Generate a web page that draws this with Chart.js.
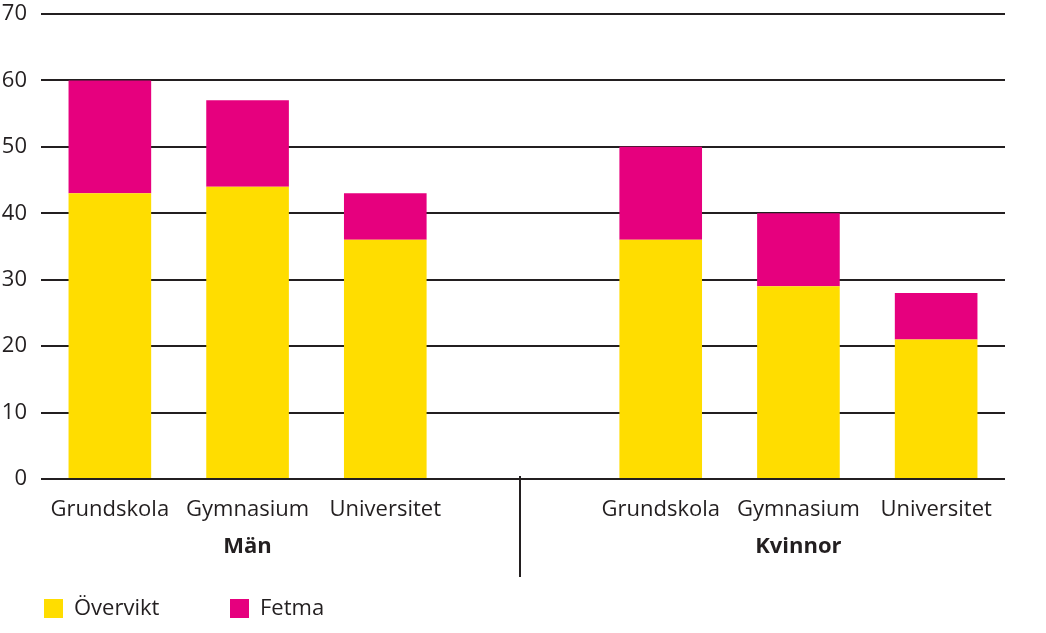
<!DOCTYPE html>
<html>
<head>
<meta charset="utf-8">
<script src="https://cdn.jsdelivr.net/npm/chart.js@4/dist/chart.umd.min.js"></script>
<style>
  html, body { margin: 0; padding: 0; background: #fff; }
  #wrap { width: 1046px; height: 633px; position: relative; }
</style>
</head>
<body>
<div id="wrap"><canvas id="chart"></canvas></div>
<script>
// kategorier (tom plats i mitten skiljer grupperna åt)
const categories = ["Grundskola", "Gymnasium", "Universitet", "", "Grundskola", "Gymnasium", "Universitet"];
const groups = ["Män", "Kvinnor"];
const groupCenterIndex = [1, 5];
const overvikt = [43, 44, 36, null, 36, 29, 21];
const fetma = [17, 13, 7, null, 14, 11, 7];
const yTicks = [0, 10, 20, 30, 40, 50, 60, 70];

const YELLOW = "#FFDD00";
const MAGENTA = "#E6007E";
const INK = "#231F20";
const FONT = "'Open Sans', sans-serif";

// grupprubriker, skiljelinje och förklaring ritas själv
const extras = {
  id: "extras",
  afterDraw(chart) {
    const ctx = chart.ctx;
    const x = chart.scales.x;
    ctx.save();
    // skiljelinje
    const sx = Math.round(x.getPixelForValue(3)) - 3;
    ctx.strokeStyle = INK;
    ctx.lineWidth = 2;
    ctx.beginPath();
    ctx.moveTo(sx, chart.chartArea.bottom - 3);
    ctx.lineTo(sx, 577);
    ctx.stroke();

    ctx.fillStyle = INK;
    ctx.font = "bold 22px " + FONT;
    ctx.textAlign = "center";
    ctx.textBaseline = "middle";
    groups.forEach((g, i) => {
      ctx.fillText(g, x.getPixelForValue(groupCenterIndex[i]), 547);
    });

    // förklaring
    const items = [["Övervikt", YELLOW, 44], ["Fetma", MAGENTA, 230]];
    ctx.font = "22px " + FONT;
    ctx.textAlign = "left";
    items.forEach(([txt, col, lx]) => {
      ctx.fillStyle = col;
      ctx.fillRect(lx, 599, 19, 19);
      ctx.fillStyle = INK;
      ctx.fillText(txt, lx + 30, 609);
    });
    ctx.restore();
  }
};

new Chart(document.getElementById("chart"), {
  type: "bar",
  data: {
    labels: categories,
    datasets: [
      { label: "Övervikt", data: overvikt, backgroundColor: YELLOW },
      { label: "Fetma", data: fetma, backgroundColor: MAGENTA }
    ]
  },
  options: {
    responsive: true,
    maintainAspectRatio: false,
    animation: false,
    layout: { padding: { top: 14, right: 41, left: 0, bottom: 0 } },
    datasets: { bar: { categoryPercentage: 1, barPercentage: 0.6 } },
    plugins: { legend: { display: false }, tooltip: { enabled: false } },
    scales: {
      x: {
        stacked: true,
        grid: { display: false, drawTicks: false },
        border: { display: false },
        ticks: { color: INK, font: { family: FONT, size: 22 }, padding: 18, maxRotation: 0, autoSkip: false },
        afterFit: s => { s.height = 154; s.paddingLeft = 0; s.paddingRight = 0; }
      },
      y: {
        stacked: true,
        min: 0,
        max: 70,
        afterBuildTicks: s => { s.ticks = yTicks.map(v => ({ value: v })); },
        grid: { color: INK, lineWidth: 2, drawTicks: false },
        border: { display: false },
        ticks: { color: INK, font: { family: FONT, size: 22 }, padding: 14 },
        afterFit: s => { s.width = 41; s.paddingTop = 0; s.paddingBottom = 0; }
      }
    }
  },
  plugins: [extras]
});
</script>
</body>
</html>
